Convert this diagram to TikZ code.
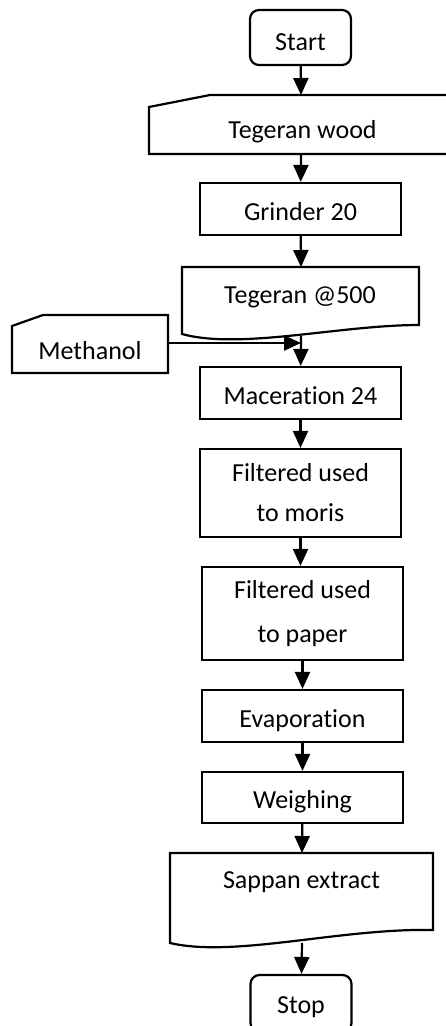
\documentclass[tikz,border=0pt]{standalone}
\usepackage{fontspec}
\setmainfont{Carlito}[Ligatures={NoCommon,NoContextual}, Contextuals=NoAlternate, RawFeature=-dlig]
\usetikzlibrary{arrows.meta}
\begin{document}
\begin{tikzpicture}[x=1pt,y=-1pt,
  font=\fontsize{26}{40}\selectfont,
  lw/.style={line width=2.2pt},
  box/.style={draw, lw, rectangle, minimum width=201pt, minimum height=52pt, inner sep=0pt, text height=22pt, text depth=0pt},
  tall/.style={draw, lw, rectangle, minimum width=201pt, inner sep=0pt, align=center},
  term/.style={draw, lw, rounded corners=9pt, minimum width=101pt, minimum height=55pt, inner sep=0pt, text height=25pt, text depth=0pt},
  lbl/.style={anchor=base, inner sep=0pt},
  outline/.style={draw, lw, line join=miter},
  arr/.style={lw, -{Triangle[length=17pt,width=15pt]}}
]
\useasboundingbox (0,0) rectangle (445,1026);

% Start
\node[term] (start) at (300.5,37.5) {Start};

% Tegeran wood (manual input)
\draw[outline] (149,107) -- (210,95) -- (448,95) -- (448,154) -- (149,154) -- cycle;
\node[lbl] (wood) at (302.5,138) {Tegeran wood};
\coordinate (woodtop) at (301,95);
\coordinate (woodbot) at (301,154);

% Grinder
\node[box] (grinder) at (300.5,209) {Grinder 20};

% Tegeran @500 (document)
\draw[outline] (182,334) -- (182,267) -- (419,267) -- (419,325)
  .. controls (340,325) and (240,350) .. (182,334) -- cycle;
\node[lbl] (tegeran) at (300,303) {Tegeran @500};
\coordinate (doctop) at (301,267);
\coordinate (docbot) at (301,336);

% Methanol (manual input)
\draw[outline] (12,326) -- (43,315) -- (168,315) -- (168,373) -- (12,373) -- cycle;
\node[lbl] (methanol) at (90,359) {Methanol};
\coordinate (methout) at (168,343);
\coordinate (methin) at (301,343);

% Maceration
\node[box] (macer) at (300.5,393) {Macerat\kern0pt ion 24};

% Filtered boxes
\node[tall, minimum height=88pt, font=\fontsize{26}{40}\selectfont] (moris) at (300.5,493) {Filtered used\\to moris};
\node[tall, minimum height=93pt, font=\fontsize{26}{44}\selectfont] (paper) at (302.5,613.5) {Filtered used\\to paper};

% Evaporation, Weighing
\node[box] (evap) at (302.5,716) {Evaporat\kern0pt ion};
\node[box, minimum height=51pt] (weigh) at (302.5,797.5) {Weighing};

% Sappan extract (document)
\draw[outline] (170,943) -- (170,853) -- (433,853) -- (433,930)
  .. controls (340,928) and (235,958) .. (170,943) -- cycle;
\node[lbl] (sappan) at (301.5,888) {Sappan extract};
\coordinate (sappantop) at (302,853);
\coordinate (sappanbot) at (302,943);

% Stop
\node[term, minimum height=57pt, text height=19pt] (stop) at (301,1003.5) {Stop};

% Connectors
\draw[arr] (start) -- (woodtop);
\draw[arr] (woodbot) -- (grinder);
\draw[arr] (grinder) -- (doctop);
\draw[arr] (docbot) -- (macer);
\draw[arr] (methout) -- (methin);
\draw[arr] (macer) -- (moris);
\draw[arr] (moris.south) -- (moris.south |- paper.north);
\draw[arr] (paper) -- (evap);
\draw[arr] (evap) -- (weigh);
\draw[arr] (weigh) -- (sappantop);
\draw[arr] (sappanbot) -- (stop);
\end{tikzpicture}
\end{document}
